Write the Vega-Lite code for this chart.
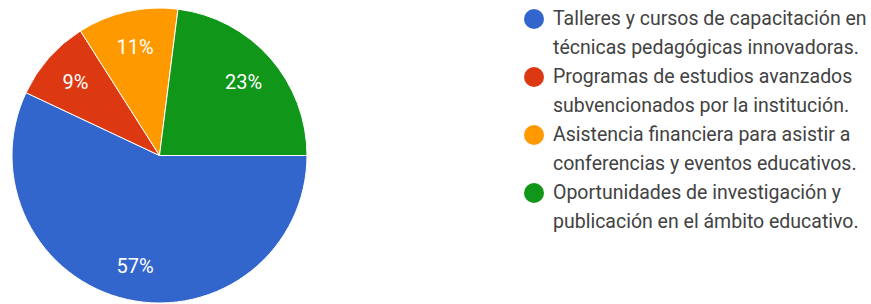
{
  "$schema": "https://vega.github.io/schema/vega-lite/v6.json",
  "width": 295,
  "height": 295,
  "padding": {"left": 12, "top": 8, "right": 564, "bottom": 1},
  "autosize": {"type": "none"},
  "background": "white",
  "view": {"stroke": null},
  "config": {"style": {"guide-label": {"lineHeight": 29}}},
  "data": {
    "values": [
      {"idx": 1, "cat": "Talleres y cursos de capacitación en\ntécnicas pedagógicas innovadoras.", "pct": 57, "label": "57%"},
      {"idx": 2, "cat": "Programas de estudios avanzados\nsubvencionados por la institución.", "pct": 9, "label": "9%"},
      {"idx": 3, "cat": "Asistencia financiera para asistir a\nconferencias y eventos educativos.", "pct": 11, "label": "11%"},
      {"idx": 4, "cat": "Oportunidades de investigación y\npublicación en el ámbito educativo.", "pct": 23, "label": "23%"}
    ]
  },
  "encoding": {
    "theta": {"field": "pct", "type": "quantitative", "stack": true, "scale": {"range": [1.5708, 7.854]}},
    "order": {"field": "idx", "type": "quantitative"}
  },
  "layer": [
    {
      "mark": {"type": "arc", "outerRadius": 147.5, "stroke": "white", "strokeWidth": 1},
      "encoding": {
        "color": {
          "field": "cat",
          "type": "nominal",
          "sort": null,
          "scale": {
            "domain": [
              "Talleres y cursos de capacitación en\ntécnicas pedagógicas innovadoras.",
              "Programas de estudios avanzados\nsubvencionados por la institución.",
              "Asistencia financiera para asistir a\nconferencias y eventos educativos.",
              "Oportunidades de investigación y\npublicación en el ámbito educativo."
            ],
            "range": ["#3366cc", "#dc3912", "#ff9900", "#109618"]
          },
          "legend": {
            "title": null,
            "orient": "none",
            "legendX": 512,
            "legendY": 1,
            "symbolType": "circle",
            "symbolSize": 400,
            "symbolStrokeWidth": 0,
            "labelFont": "Roboto",
            "labelFontSize": 19.5,
            "labelColor": "#424242",
            "labelLimit": 500,
            "labelOffset": 9,
            "rowPadding": 9,
            "labelExpr": "split(datum.label, '\\n')"
          }
        }
      }
    },
    {
      "mark": {"type": "text", "radius": 112, "dy": 2, "fontSize": 20, "font": "Roboto", "fill": "white"},
      "encoding": {"text": {"field": "label", "type": "nominal"}}
    }
  ]
}
